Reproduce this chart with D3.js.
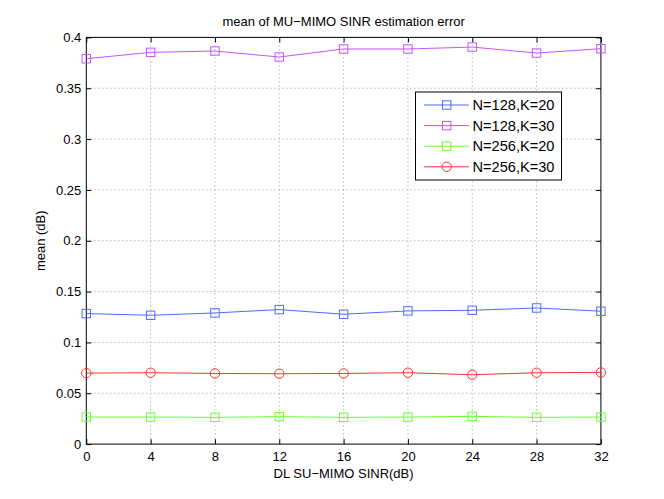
<!DOCTYPE html>
<html>
<head>
<meta charset="utf-8">
<script src="https://cdn.jsdelivr.net/npm/d3@7"></script>
<style>
  body { margin: 0; background: #fff; }
  text { font-family: "Liberation Sans", Arial, sans-serif; }
</style>
</head>
<body>
<div id="chart"></div>
<script>
// Datos
const sinr = [0, 4, 8, 12, 16, 20, 24, 28, 32];
const seriesNames = ["N=128,K=20", "N=128,K=30", "N=256,K=20", "N=256,K=30"];
const n128k20 = [0.1284, 0.1267, 0.1290, 0.1323, 0.1277, 0.1310, 0.1316, 0.1339, 0.1307];
const n128k30 = [0.3790, 0.3853, 0.3866, 0.3807, 0.3886, 0.3886, 0.3905, 0.3846, 0.3889];
const n256k20 = [0.0266, 0.0266, 0.0263, 0.0270, 0.0263, 0.0266, 0.0273, 0.0263, 0.0266];
const n256k30 = [0.0698, 0.0702, 0.0695, 0.0692, 0.0695, 0.0702, 0.0682, 0.0702, 0.0705];
const yTicks = [0, 0.05, 0.1, 0.15, 0.2, 0.25, 0.3, 0.35, 0.4];

const colors = ["#4d6bff", "#c455ff", "#6cff33", "#ff3333"];
const markers = ["square", "square", "square", "circle"];
const series = [n128k20, n128k30, n256k20, n256k30];

// Dimensiones (posición por defecto de los ejes de MATLAB)
const W = 664, H = 499;
const marginLeft = 86.3, marginRight = 600.9, marginTop = 37.4, marginBottom = 444.1;

const svg = d3.select("#chart").append("svg")
  .attr("width", W).attr("height", H);

const x = d3.scaleLinear().domain([0, 32]).range([marginLeft, marginRight]);
const y = d3.scaleLinear().domain([0, 0.4]).range([marginBottom, marginTop]);

// Rejilla punteada
const grid = svg.append("g").attr("stroke", "#999").attr("stroke-width", 1)
  .attr("stroke-dasharray", "1,3");
grid.selectAll("line.v").data(sinr.slice(1, -1)).join("line").attr("class", "v")
  .attr("x1", d => x(d)).attr("x2", d => x(d))
  .attr("y1", marginTop).attr("y2", marginBottom);
grid.selectAll("line.h").data(yTicks.slice(1, -1)).join("line").attr("class", "h")
  .attr("x1", marginLeft).attr("x2", marginRight)
  .attr("y1", d => y(d)).attr("y2", d => y(d));

// Ejes con ticks hacia dentro
const tk = 5;
svg.append("g").attr("transform", `translate(0,${marginBottom})`)
  .call(d3.axisBottom(x).tickValues(sinr).tickSizeInner(-tk).tickSizeOuter(0).tickPadding(8))
  .call(g => g.select(".domain").remove())
  .call(g => g.selectAll("text").attr("font-size", 13).attr("fill", "#000"));
svg.append("g").attr("transform", `translate(0,${marginTop})`)
  .call(d3.axisTop(x).tickValues(sinr).tickSizeInner(-tk).tickSizeOuter(0).tickFormat(""))
  .call(g => g.select(".domain").remove());
svg.append("g").attr("transform", `translate(${marginLeft},0)`)
  .call(d3.axisLeft(y).tickValues(yTicks).tickSizeInner(-tk).tickSizeOuter(0).tickPadding(5).tickFormat(d => String(+d.toFixed(2))))
  .call(g => g.select(".domain").remove())
  .call(g => g.selectAll("text").attr("font-size", 13).attr("fill", "#000"));
svg.append("g").attr("transform", `translate(${marginRight},0)`)
  .call(d3.axisRight(y).tickValues(yTicks).tickSizeInner(-tk).tickSizeOuter(0).tickFormat(""))
  .call(g => g.select(".domain").remove());

svg.append("rect")
  .attr("x", marginLeft).attr("y", marginTop)
  .attr("width", marginRight - marginLeft).attr("height", marginBottom - marginTop)
  .attr("fill", "none").attr("stroke", "#000").attr("stroke-width", 1);

// Series
const line = d3.line().x((d, i) => x(sinr[i])).y(d => y(d));

function drawMarker(g, type, color, cx, cy) {
  if (type === "circle") {
    g.append("circle").attr("cx", cx).attr("cy", cy).attr("r", 4.7)
      .attr("fill", "none").attr("stroke", color).attr("stroke-width", 1);
  } else {
    g.append("rect").attr("x", cx - 4.2).attr("y", cy - 4.2)
      .attr("width", 8.4).attr("height", 8.4)
      .attr("fill", "none").attr("stroke", color).attr("stroke-width", 1);
  }
}

series.forEach((vals, k) => {
  const g = svg.append("g");
  g.append("path").datum(vals)
    .attr("d", line).attr("fill", "none")
    .attr("stroke", colors[k]).attr("stroke-width", 1);
  vals.forEach((v, i) => drawMarker(g, markers[k], colors[k], x(sinr[i]), y(v)));
});

// Leyenda
const lg = svg.append("g");
const lx = 415.5, ly = 92, lw = 146, lh = 88, row = 20.6;
lg.append("rect").attr("x", lx).attr("y", ly).attr("width", lw).attr("height", lh)
  .attr("fill", "#fff").attr("stroke", "#000").attr("stroke-width", 1);
seriesNames.forEach((name, k) => {
  const cy = ly + 13 + k * row;
  lg.append("line").attr("x1", lx + 8.5).attr("x2", lx + 53.5)
    .attr("y1", cy).attr("y2", cy).attr("stroke", colors[k]).attr("stroke-width", 1);
  drawMarker(lg, markers[k], colors[k], lx + 31.2, cy);
  lg.append("text").attr("x", lx + 57).attr("y", cy + 5.2)
    .attr("font-size", 14.6).text(name);
});

// Títulos
svg.append("text").attr("x", (marginLeft + marginRight) / 2).attr("y", 25.5)
  .attr("text-anchor", "middle").attr("font-size", 13)
  .text("mean of MU\u2212MIMO SINR estimation error");
svg.append("text").attr("x", (marginLeft + marginRight) / 2).attr("y", 478)
  .attr("text-anchor", "middle").attr("font-size", 13)
  .text("DL SU\u2212MIMO SINR(dB)");
svg.append("text")
  .attr("transform", `translate(45,${(marginTop + marginBottom) / 2}) rotate(-90)`)
  .attr("text-anchor", "middle").attr("font-size", 13)
  .text("mean (dB)");
</script>
</body>
</html>
